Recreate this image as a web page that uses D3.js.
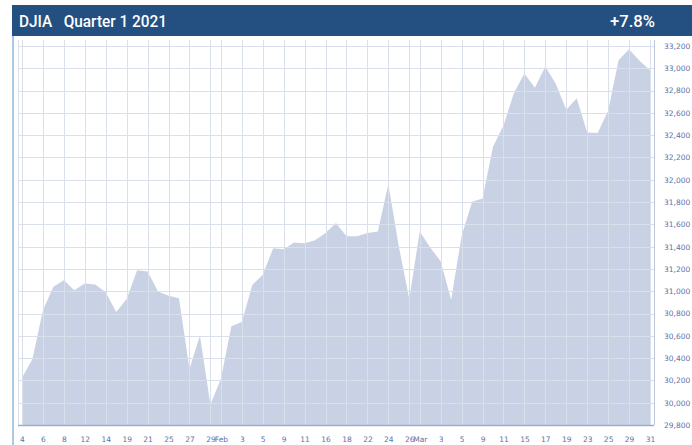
<!DOCTYPE html>
<html>
<head>
<meta charset="utf-8">
<script src="https://cdn.jsdelivr.net/npm/d3@7"></script>
<style>
  body { margin: 0; background: #ffffff; }
  svg { display: block; }
</style>
</head>
<body>
<script>
// trading days of Q1 2021
const days = [
  "Jan 4", "Jan 5", "Jan 6", "Jan 7", "Jan 8", "Jan 11", "Jan 12", "Jan 13", "Jan 14", "Jan 15",
  "Jan 19", "Jan 20", "Jan 21", "Jan 22", "Jan 25", "Jan 26", "Jan 27", "Jan 28", "Jan 29",
  "Feb 1", "Feb 2", "Feb 3", "Feb 4", "Feb 5", "Feb 8", "Feb 9", "Feb 10", "Feb 11", "Feb 12",
  "Feb 16", "Feb 17", "Feb 18", "Feb 19", "Feb 22", "Feb 23", "Feb 24", "Feb 25", "Feb 26",
  "Mar 1", "Mar 2", "Mar 3", "Mar 4", "Mar 5", "Mar 8", "Mar 9", "Mar 10", "Mar 11", "Mar 12",
  "Mar 15", "Mar 16", "Mar 17", "Mar 18", "Mar 19", "Mar 22", "Mar 23", "Mar 24", "Mar 25",
  "Mar 26", "Mar 29", "Mar 30", "Mar 31"
];

const closes = [
  30224, 30392, 30829, 31041, 31098, 31009, 31069, 31060, 30992, 30814,
  30931, 31188, 31176, 30997, 30960, 30937, 30303, 30603, 29983,
  30212, 30687, 30724, 31056, 31148, 31386, 31376, 31438, 31431, 31458,
  31523, 31613, 31493, 31494, 31522, 31537, 31962, 31402, 30932,
  31536, 31392, 31270, 30924, 31496, 31802, 31833, 32297, 32486, 32779,
  32953, 32826, 33015, 32862, 32628, 32731, 32423, 32420, 32619,
  33073, 33171, 33067, 32982
];

// which days carry a tick, and the text shown there
const tickDays = [
  "Jan 4", "Jan 6", "Jan 8", "Jan 12", "Jan 14", "Jan 19", "Jan 21", "Jan 25", "Jan 27", "Jan 29",
  "Feb 1", "Feb 3", "Feb 5", "Feb 9", "Feb 11", "Feb 16", "Feb 18", "Feb 22", "Feb 24", "Feb 26",
  "Mar 1", "Mar 3", "Mar 5", "Mar 9", "Mar 11", "Mar 15", "Mar 17", "Mar 19", "Mar 23", "Mar 25",
  "Mar 29", "Mar 31"
];
const tickLabels = [
  "4", "6", "8", "12", "14", "19", "21", "25", "27", "29",
  "Feb", "3", "5", "9", "11", "16", "18", "22", "24", "26",
  "Mar", "3", "5", "9", "11", "15", "17", "19", "23", "25",
  "29", "31"
];

const yTicks = d3.range(29800, 33201, 200);

const title = "DJIA   Quarter 1 2021";
const change = "+7.8%";

const width = 692, height = 445;
const plot = { left: 18, right: 654, top: 40, bottom: 425 };

const svg = d3.select("body").append("svg")
  .attr("width", width)
  .attr("height", height);

const x = d3.scalePoint()
  .domain(days)
  .range([22, 650]);

const y = d3.scaleLinear()
  .domain([29800, 33200])
  .range([plot.bottom, 46]);

// header band
svg.append("rect")
  .attr("x", 12).attr("y", 5)
  .attr("width", width - 12).attr("height", 31)
  .attr("fill", "#235081");

svg.append("text")
  .attr("x", 19).attr("y", 27)
  .attr("fill", "#ffffff")
  .attr("textLength", 148)
  .attr("lengthAdjust", "spacingAndGlyphs")
  .attr("xml:space", "preserve")
  .style("font-family", "Roboto, sans-serif")
  .style("font-weight", 500)
  .style("font-size", "17px")
  .style("white-space", "pre")
  .text(title);

svg.append("text")
  .attr("x", 655).attr("y", 27)
  .attr("text-anchor", "end")
  .attr("fill", "#ffffff")
  .attr("textLength", 45)
  .attr("lengthAdjust", "spacingAndGlyphs")
  .style("font-family", "Roboto, sans-serif")
  .style("font-weight", 500)
  .style("font-size", "17px")
  .text(change);

// left container border
svg.append("line")
  .attr("x1", 13).attr("x2", 13)
  .attr("y1", 36).attr("y2", height)
  .attr("stroke", "#a9cbe6")
  .attr("stroke-width", 2);

// area
const area = d3.area()
  .x((d, i) => x(days[i]))
  .y0(plot.bottom)
  .y1(d => y(d));

svg.append("path")
  .datum(closes)
  .attr("d", area)
  .attr("fill", "#c9d2e4");

// grid on top of the fill
const grid = svg.append("g")
  .attr("stroke", "#d9dfeb")
  .attr("stroke-width", 1);

grid.selectAll("line.h")
  .data(yTicks.slice(1))
  .join("line")
  .attr("class", "h")
  .attr("x1", plot.left).attr("x2", plot.right)
  .attr("y1", d => Math.round(y(d)) + 0.5)
  .attr("y2", d => Math.round(y(d)) + 0.5);

grid.selectAll("line.v")
  .data(tickDays)
  .join("line")
  .attr("class", "v")
  .attr("x1", d => Math.round(x(d)) + 0.5)
  .attr("x2", d => Math.round(x(d)) + 0.5)
  .attr("y1", plot.top).attr("y2", plot.bottom);

grid.append("line")
  .attr("x1", plot.left + 0.5).attr("x2", plot.left + 0.5)
  .attr("y1", plot.top).attr("y2", plot.bottom);

// frame
svg.append("line")
  .attr("x1", plot.right + 0.5).attr("x2", plot.right + 0.5)
  .attr("y1", plot.top).attr("y2", plot.bottom)
  .attr("stroke", "#bcc7dd");

svg.append("line")
  .attr("x1", plot.left).attr("x2", plot.right)
  .attr("y1", plot.bottom + 0.5).attr("y2", plot.bottom + 0.5)
  .attr("stroke", "#9eadcb")
  .attr("stroke-width", 1.5);

// axes
const labelStyle = (sel) => sel
  .style("font-family", "'DejaVu Sans', Verdana, sans-serif")
  .style("font-size", "7.5px")
  .attr("fill", "#5d72a6");

const yAxis = svg.append("g")
  .attr("transform", "translate(664,0)")
  .call(d3.axisRight(y).tickValues(yTicks).tickSize(0).tickPadding(0).tickFormat(d3.format(",")));
yAxis.select(".domain").remove();
yAxis.selectAll("text").call(labelStyle).attr("dy", "0.32em");

const xAxis = svg.append("g")
  .attr("transform", `translate(0,${plot.bottom})`)
  .call(d3.axisBottom(x).tickValues(tickDays).tickSize(0).tickPadding(12)
    .tickFormat((d, i) => tickLabels[i]));
xAxis.select(".domain").remove();
xAxis.selectAll("text").call(labelStyle);
</script>
</body>
</html>
